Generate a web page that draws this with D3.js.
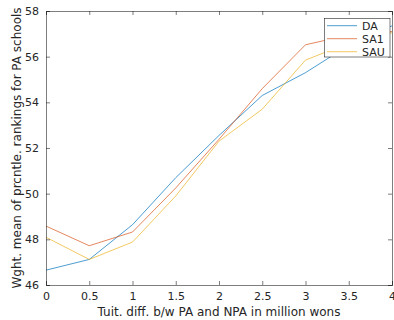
<!DOCTYPE html>
<html><head><meta charset="utf-8">
<script src="https://cdn.jsdelivr.net/npm/d3@7"></script>
<style>body{margin:0;background:#fff}svg{display:block}</style>
</head><body>
<svg id="c" width="394" height="320"></svg>
<script>
const xValues = [0, 0.5, 1, 1.5, 2, 2.5, 3, 3.5, 4];
const seriesNames = ["DA", "SA1", "SAU"];
const daValues  = [46.65, 47.12, 48.64, 50.70, 52.55, 54.30, 55.30, 56.50, 57.35];
const sa1Values = [48.58, 47.72, 48.32, 50.25, 52.38, 54.60, 56.52, 56.95, 57.10];
const sauValues = [48.09, 47.12, 47.88, 49.90, 52.30, 53.70, 55.85, 56.60, 57.05];
const xTicks = [0, 0.5, 1, 1.5, 2, 2.5, 3, 3.5, 4];
const yTicks = [46, 48, 50, 52, 54, 56, 58];
const colors = ["#0072BD", "#D95319", "#EDB120"];

const svg = d3.select("#c");
const m = {l: 46, r: 2, t: 11, b: 35};
const W = 394, H = 320;
const x = d3.scaleLinear().domain([0, 4]).range([m.l, W - m.r]);
const y = d3.scaleLinear().domain([46, 58]).range([H - m.b, m.t]);
const font = "DejaVu Sans, sans-serif";
const axisCol = "#262626";

const seriesData = [daValues, sa1Values, sauValues];
const line = d3.line().x((d, i) => x(xValues[i])).y(d => y(d));
seriesData.forEach((vals, k) => {
  svg.append("path").datum(vals).attr("d", line)
    .attr("fill", "none").attr("stroke", colors[k]).attr("stroke-width", 0.7);
});

// axes
const gx = svg.append("g").attr("transform", `translate(0,${y(46)})`)
  .call(d3.axisBottom(x).tickValues(xTicks).tickSize(-4).tickPadding(7).tickFormat(d3.format("")));
const gxt = svg.append("g").attr("transform", `translate(0,${y(58)})`)
  .call(d3.axisTop(x).tickValues(xTicks).tickSize(-4).tickFormat(""));
const gy = svg.append("g").attr("transform", `translate(${x(0)},0)`)
  .call(d3.axisLeft(y).tickValues(yTicks).tickSize(-4).tickPadding(7));
const gyr = svg.append("g").attr("transform", `translate(${x(4)},0)`)
  .call(d3.axisRight(y).tickValues(yTicks).tickSize(-4).tickFormat(""));
[gx, gxt, gy, gyr].forEach(g => {
  g.select(".domain").attr("stroke", axisCol).attr("stroke-width", 0.6);
  g.selectAll(".tick line").attr("stroke", axisCol).attr("stroke-width", 0.6);
  g.selectAll("text").attr("fill", axisCol).style("font-family", font).style("font-size", "11px");
});

svg.append("text").attr("x", (x(0) + x(4)) / 2).attr("y", 315.5)
  .attr("text-anchor", "middle").attr("fill", axisCol)
  .style("font-family", font).style("font-size", "12px")
  .text("Tuit. diff. b/w PA and NPA in million wons");
svg.append("text").attr("transform", `translate(21,${(y(46) + y(58)) / 2}) rotate(-90)`)
  .attr("text-anchor", "middle").attr("fill", axisCol)
  .style("font-family", font).style("font-size", "12px")
  .text("Wght. mean of prcntle. rankings for PA schools");

// legend
const lg = svg.append("g");
lg.append("rect").attr("x", 324.5).attr("y", 18.5).attr("width", 65.5).attr("height", 38.5)
  .attr("fill", "#fff").attr("stroke", axisCol).attr("stroke-width", 0.6);
seriesNames.forEach((n, k) => {
  const yy = 25.7 + k * 13;
  lg.append("line").attr("x1", 327).attr("x2", 357).attr("y1", yy).attr("y2", yy)
    .attr("stroke", colors[k]).attr("stroke-width", 0.7);
  lg.append("text").attr("x", 362).attr("y", yy + 4).attr("fill", axisCol)
    .style("font-family", font).style("font-size", "11px").text(n);
});
</script>
</body></html>
